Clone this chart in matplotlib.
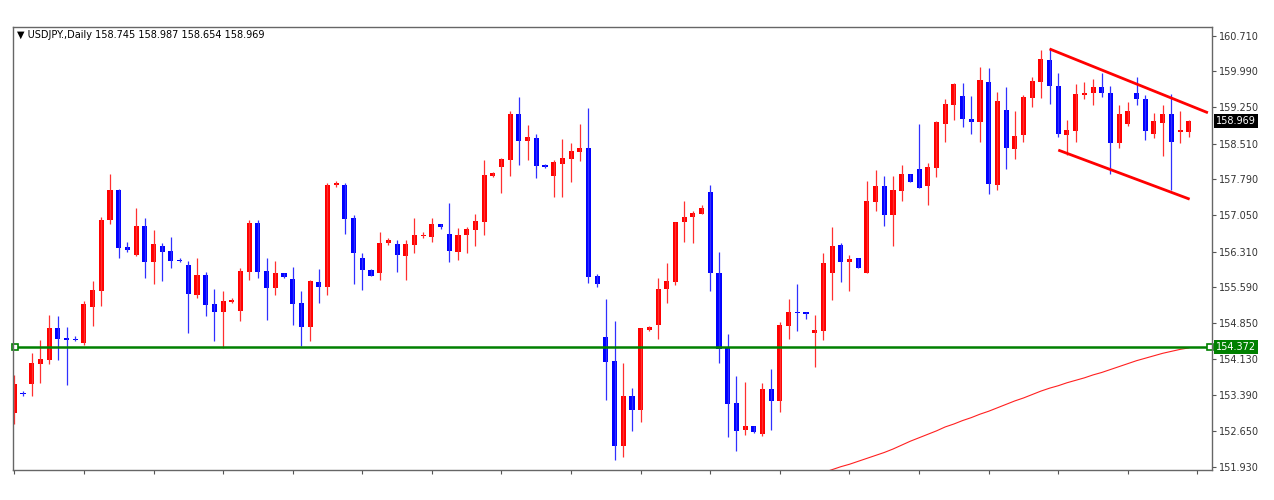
import numpy as np
import matplotlib.pyplot as plt

opens = [153.02, 153.43, 153.62, 154.02, 154.10, 154.75, 154.55, 154.54, 154.46, 155.19,
         155.51, 156.96, 157.57, 156.40, 156.24, 156.83, 156.09, 156.43, 156.32, 156.14,
         156.04, 155.42, 155.84, 155.24, 155.09, 155.29, 155.11, 155.90, 156.90, 155.92,
         155.58, 155.87, 155.75, 155.26, 154.77, 155.70, 155.60, 157.66, 157.66, 156.99,
         156.19, 155.94, 155.87, 156.48, 156.46, 156.23, 156.45, 156.62, 156.60, 156.87,
         156.68, 156.31, 156.64, 156.75, 156.92, 157.86, 158.04, 158.18, 159.12, 158.57,
         158.62, 158.08, 157.86, 158.10, 158.19, 158.35, 158.43, 155.82, 154.57, 154.08,
         152.36, 153.38, 153.09, 154.72, 154.82, 155.55, 155.69, 156.91, 157.01, 157.08,
         157.52, 155.87, 154.36, 153.22, 152.68, 152.75, 152.59, 153.51, 153.27, 154.80,
         155.09, 155.08, 154.65, 154.70, 155.87, 156.45, 156.11, 156.18, 155.87, 157.33,
         157.65, 157.06, 157.55, 157.89, 157.99, 157.64, 158.02, 158.91, 159.30, 159.48,
         159.01, 158.96, 159.77, 157.66, 159.20, 158.40, 158.69, 159.45, 159.77, 160.22,
         159.69, 158.69, 158.76, 159.50, 159.54, 159.67, 159.54, 158.52, 158.91, 159.55,
         159.42, 158.70, 158.93, 159.11, 158.74, 158.745]
highs = [153.80, 153.48, 154.25, 154.51, 155.03, 155.01, 154.77, 154.59, 155.31, 155.71,
         157.02, 157.89, 157.59, 156.50, 157.19, 156.99, 156.75, 156.48, 156.60, 156.18,
         156.12, 156.18, 155.90, 155.54, 155.50, 155.37, 155.97, 156.96, 156.96, 156.18,
         156.13, 155.88, 155.99, 155.50, 155.73, 155.96, 157.70, 157.76, 157.70, 157.06,
         156.28, 155.95, 156.72, 156.58, 156.55, 156.55, 157.00, 156.72, 156.99, 156.87,
         157.30, 156.79, 156.82, 157.07, 158.18, 157.93, 158.21, 159.18, 159.46, 158.89,
         158.70, 158.09, 158.18, 158.61, 158.52, 158.91, 159.23, 155.85, 155.35, 154.89,
         154.04, 153.53, 154.76, 154.80, 155.78, 156.07, 156.92, 157.34, 157.14, 157.26,
         157.66, 156.30, 154.63, 153.77, 153.66, 152.75, 153.63, 153.93, 154.87, 155.35,
         155.65, 155.09, 155.03, 156.28, 156.82, 156.48, 156.24, 156.18, 157.75, 157.97,
         157.85, 157.86, 158.08, 157.89, 158.91, 158.12, 158.97, 159.42, 159.74, 159.74,
         159.49, 160.08, 160.05, 159.57, 159.67, 159.18, 159.50, 159.86, 160.42, 160.45,
         159.96, 158.99, 159.72, 159.77, 159.83, 159.96, 159.69, 159.30, 159.35, 159.86,
         159.50, 159.13, 159.30, 159.52, 159.18, 158.987]
lows = [152.81, 153.38, 153.38, 153.64, 154.02, 154.10, 153.60, 154.49, 154.40, 154.80,
        155.20, 156.87, 156.18, 156.31, 156.22, 155.77, 155.65, 155.71, 155.97, 156.09,
        154.65, 155.37, 154.99, 154.49, 154.34, 155.26, 154.89, 155.73, 155.77, 154.92,
        155.42, 155.78, 154.82, 154.38, 154.49, 155.26, 155.42, 157.62, 156.68, 155.65,
        155.53, 155.82, 155.73, 156.45, 155.90, 155.73, 156.28, 156.58, 156.50, 156.77,
        156.11, 156.14, 156.28, 156.43, 156.66, 157.84, 157.50, 157.86, 158.08, 158.18,
        157.82, 158.02, 157.42, 157.43, 157.72, 158.16, 155.67, 155.60, 153.29, 152.07,
        152.12, 152.66, 152.85, 154.70, 154.53, 155.26, 155.63, 156.50, 156.48, 157.08,
        155.51, 154.04, 152.53, 152.24, 152.58, 152.61, 152.56, 152.68, 153.04, 154.53,
        154.70, 154.94, 153.97, 154.51, 155.33, 155.69, 155.51, 155.97, 155.87, 157.13,
        156.84, 156.43, 157.35, 157.72, 157.61, 157.26, 157.84, 158.55, 158.99, 158.84,
        158.70, 158.54, 157.48, 157.57, 158.00, 158.19, 158.54, 159.26, 159.45, 159.31,
        158.64, 158.28, 158.54, 159.42, 159.29, 159.47, 157.89, 158.42, 158.88, 159.29,
        158.59, 158.62, 158.25, 157.57, 158.53, 158.654]
closes = [153.61, 153.42, 154.04, 154.12, 154.75, 154.53, 154.52, 154.52, 155.24, 155.52,
          156.96, 157.57, 156.38, 156.34, 156.83, 156.09, 156.46, 156.31, 156.13, 156.12,
          155.45, 155.84, 155.22, 155.09, 155.31, 155.33, 155.92, 156.90, 155.90, 155.58,
          155.88, 155.80, 155.25, 154.77, 155.71, 155.60, 157.67, 157.70, 156.98, 156.28,
          155.94, 155.82, 156.48, 156.54, 156.24, 156.46, 156.64, 156.66, 156.87, 156.82,
          156.32, 156.65, 156.77, 156.94, 157.87, 157.91, 158.19, 159.12, 158.57, 158.65,
          158.06, 158.04, 158.13, 158.21, 158.36, 158.43, 155.79, 155.65, 154.07, 152.36,
          153.38, 153.09, 154.75, 154.78, 155.56, 155.71, 156.92, 157.02, 157.09, 157.19,
          155.87, 154.33, 153.20, 152.66, 152.75, 152.64, 153.51, 153.27, 154.82, 155.09,
          155.06, 155.04, 154.72, 156.07, 156.43, 156.11, 156.16, 155.97, 157.34, 157.65,
          157.06, 157.57, 157.89, 157.72, 157.61, 158.03, 158.95, 159.32, 159.72, 159.01,
          158.96, 159.81, 157.68, 159.38, 158.42, 158.67, 159.47, 159.79, 160.23, 159.69,
          158.71, 158.78, 159.52, 159.54, 159.67, 159.54, 158.52, 159.11, 159.18, 159.43,
          158.76, 158.98, 159.11, 158.55, 158.79, 158.969]

# gleitender Durchschnitt (rote Linie), beginnt bei Kerze 93
ma_start = 93
ma_values = [151.81, 151.87, 151.93, 151.98, 152.04, 152.10, 152.16, 152.22, 152.29, 152.37,
             152.45, 152.52, 152.59, 152.66, 152.74, 152.80, 152.87, 152.93, 153.00, 153.06,
             153.13, 153.20, 153.27, 153.33, 153.40, 153.47, 153.53, 153.58, 153.64, 153.69,
             153.74, 153.80, 153.85, 153.91, 153.97, 154.03, 154.09, 154.14, 154.19, 154.24,
             154.28, 154.32, 154.35]

level = 154.372
upper_x = [119.0, 137.2]
upper_y = [160.44, 159.14]
lower_x = [120.0, 135.1]
lower_y = [158.38, 157.38]

price_ticks = [160.710, 159.990, 159.250, 158.510, 157.790, 157.050, 156.310,
               155.590, 154.850, 154.130, 153.390, 152.650, 151.930]
title = "\u25BC USDJPY.,Daily 158.745 158.987 158.654 158.969"

o = np.array(opens)
h = np.array(highs)
l = np.array(lows)
c = np.array(closes)
x = np.arange(len(o))
col = np.where(c >= o, "#ff0000", "#0000ff")
wick_col = np.where(c >= o, "#ff3030", "#3030ff")

fig = plt.figure(figsize=(12.74, 5.0), dpi=100)
ax = fig.add_axes([13 / 1274, 30 / 500, 1199 / 1274, 443 / 500])

ax.vlines(x, l, h, colors=wick_col, linewidth=0.9)
ax.bar(x, np.maximum(np.abs(c - o), 0.02), bottom=np.minimum(o, c),
       width=0.58, color=col, linewidth=0)

ax.plot(np.arange(ma_start, ma_start + len(ma_values)), ma_values,
        color="#ff2020", linewidth=0.8)

ax.plot(upper_x, upper_y, color="#ff0000", linewidth=2.0, solid_capstyle="butt")
ax.plot(lower_x, lower_y, color="#ff0000", linewidth=2.0, solid_capstyle="butt")

ax.set_xlim(-0.15, 137.67)
ax.set_ylim(151.863, 160.887)

ax.axhline(level, color="#008000", linewidth=1.8)
ax.plot([0.05, 137.45], [level, level], "s", ms=4, mfc="white", mec="#008000",
        mew=1.2, clip_on=False)

ax.yaxis.tick_right()
ax.set_yticks(price_ticks)
ax.set_yticklabels([f"{t:.3f}" for t in price_ticks])
ax.set_xticks(np.arange(0, 137, 8))
ax.set_xticklabels([])
ax.tick_params(axis="y", length=3, width=0.8, colors="#555555", labelsize=7,
               labelcolor="#333333", pad=2)
ax.tick_params(axis="x", length=3, width=0.8, colors="#555555")
for s in ax.spines.values():
    s.set_color("#666666")
    s.set_linewidth(1.0)

# Preisboxen rechts
for val, bg in [(158.969, "black"), (level, "#008000")]:
    ax.annotate(f"{val:.3f}", xy=(1.0, val), xycoords=("axes fraction", "data"),
                xytext=(3, 0), textcoords="offset points", va="center", ha="left",
                fontsize=7, color="white",
                bbox=dict(boxstyle="square,pad=0.2", fc=bg, ec="none"))

ax.text(0.003, 0.981, title, transform=ax.transAxes, fontsize=7,
        va="center", ha="left", color="black")

fig.savefig("out.png", dpi=100, facecolor="white")
